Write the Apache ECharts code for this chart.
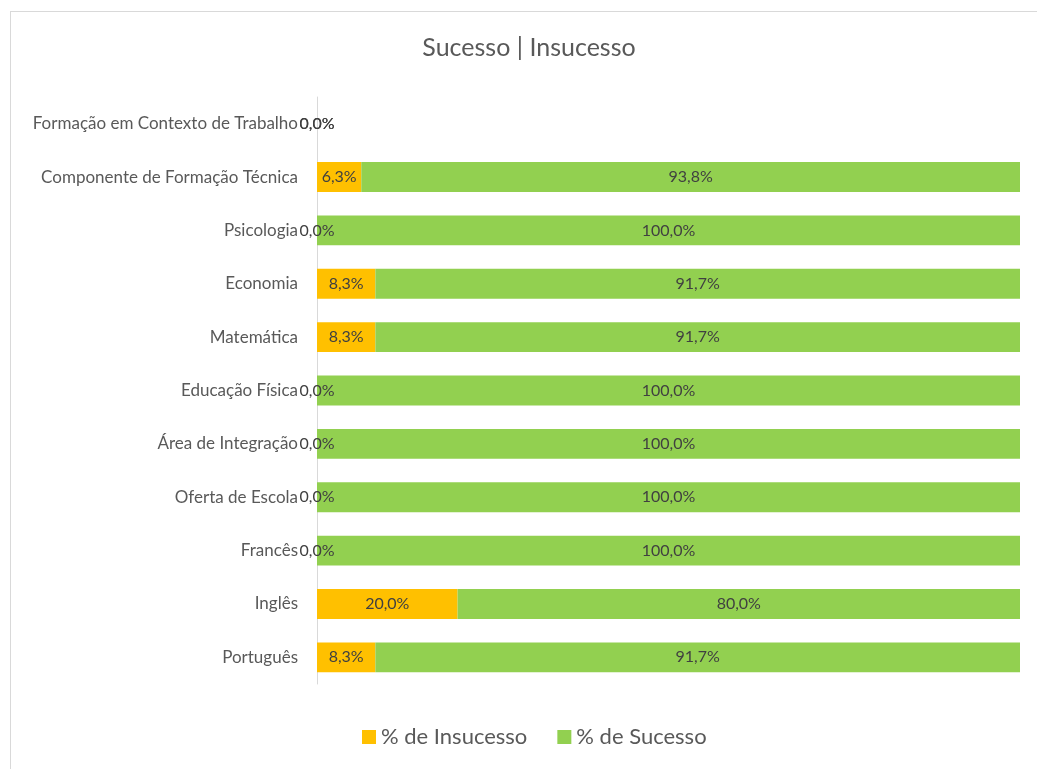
<!DOCTYPE html>
<html>
<head>
<meta charset="utf-8">
<script src="https://cdn.jsdelivr.net/npm/echarts@6/dist/echarts.min.js"></script>
<style>
html,body{margin:0;padding:0;background:#fff;}
#frame{position:absolute;left:10px;top:11px;width:1040px;height:770px;border:1px solid #d9d9d9;box-sizing:border-box;}
#chart{position:absolute;left:0;top:0;width:1037px;height:769px;}
</style>
</head>
<body>
<div id="frame"></div>
<div id="chart"></div>
<script>
const categories = ['Português','Inglês','Francês','Oferta de Escola','Área de Integração','Educação Física','Matemática','Economia','Psicologia','Componente de Formação Técnica','Formação em Contexto de Trabalho'];
const insucesso = [8.3, 20.0, 0.0, 0.0, 0.0, 0.0, 8.3, 8.3, 0.0, 6.3, 0.0];
const sucesso = [91.7, 80.0, 100.0, 100.0, 100.0, 100.0, 91.7, 91.7, 100.0, 93.8, 0.0];
const seriesNames = ['% de Insucesso', '% de Sucesso'];

const FONT = 'Lato, "Open Sans", sans-serif';
const fmt = p => p.value.toFixed(1).replace('.', ',') + '%';
const chart = echarts.init(document.getElementById('chart'));
chart.setOption({
  animation: false,
  title: {
    text: 'Sucesso | Insucesso',
    left: 524, top: 30, textAlign: 'center',
    textStyle: {fontFamily: FONT, fontSize: 25, fontWeight: 'normal', color: '#595959'}
  },
  legend: {
    bottom: 16, left: 357, itemWidth: 14, itemHeight: 14, itemGap: 30,
    icon: 'rect',
    textStyle: {fontFamily: FONT, fontSize: 22, color: '#595959'},
    data: seriesNames
  },
  grid: {left: 317, right: 17, top: 97, bottom: 85, containLabel: false},
  xAxis: {type: 'value', min: 0, max: 100, show: false},
  yAxis: {
    type: 'category', data: categories,
    axisLine: {show: true, lineStyle: {color: '#d9d9d9', width: 1}},
    axisTick: {show: false},
    axisLabel: {fontFamily: FONT, fontSize: 17, color: '#595959', margin: 19}
  },
  series: [
    {
      name: seriesNames[0], type: 'bar', stack: 'a', data: insucesso,
      barCategoryGap: '44%',
      itemStyle: {color: '#FFC000'},
      label: {show: true, position: 'inside', formatter: fmt, fontFamily: FONT, fontSize: 16, color: '#404040'}
    },
    {
      name: seriesNames[1], type: 'bar', stack: 'a', data: sucesso,
      itemStyle: {color: '#92D050'},
      label: {show: true, position: 'inside', formatter: fmt, fontFamily: FONT, fontSize: 16, color: '#404040'}
    }
  ]
});
</script>
</body>
</html>
